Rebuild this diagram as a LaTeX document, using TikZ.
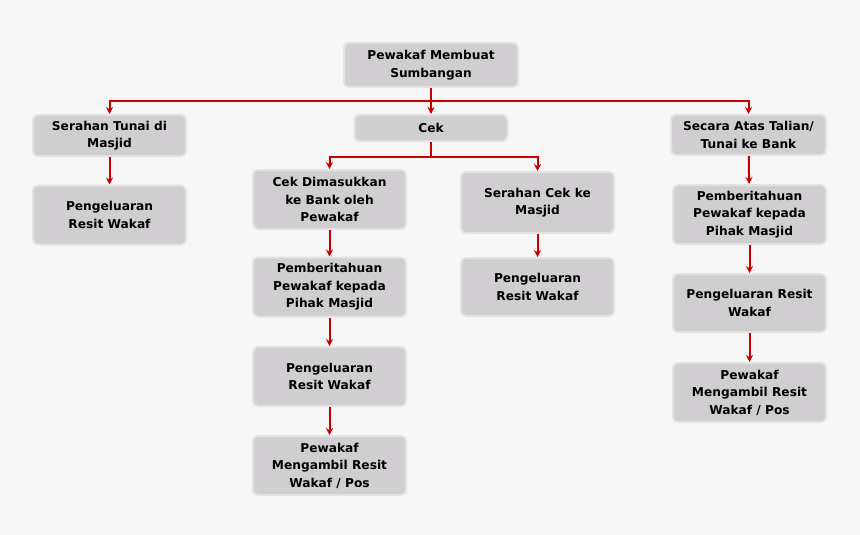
\documentclass[tikz,border=0pt]{standalone}
\usepackage{fontspec}
\setmainfont{DejaVu Sans}
\usetikzlibrary{arrows.meta, positioning}
\definecolor{boxgray}{RGB}{208,206,208}
\definecolor{boxedge}{RGB}{226,226,226}
\definecolor{linered}{RGB}{200,0,0}
\definecolor{bggray}{RGB}{247,247,247}
\begin{document}
\begin{tikzpicture}[x=1pt, y=-1pt,
    box/.style={draw=boxedge, line width=2pt, fill=boxgray, rounded corners=5pt, minimum width=153pt, minimum height=59pt, font=\bfseries\fontsize{12.2}{17.5}\selectfont, align=center, inner sep=1pt},
    arrow/.style={-{Stealth[length=7pt, width=7pt]}, linered, line width=2pt}
]
    \fill[bggray] (0,0) rectangle (860,535);
    \useasboundingbox (0,0) rectangle (860,535);

    \node[box, minimum width=174pt, minimum height=44pt] (top) at (431,65) {Pewakaf Membuat\\Sumbangan};

    % cawangan tunai
    \node[box, minimum height=41pt] (tunai) at (109.5,135.5) {Serahan Tunai di\\Masjid};
    \node[box] (resitA) at (109.5,215) {Pengeluaran\\Resit Wakaf};

    % cawangan cek
    \node[box, minimum height=26pt] (cek) at (431,128) {Cek};
    \node[box] (bank) at (329.5,199.5) {Cek Dimasukkan\\ke Bank oleh\\Pewakaf};
    \node[box] (notisB) at (329.5,287) {Pemberitahuan\\Pewakaf kepada\\Pihak Masjid};
    \node[box] (resitB) at (329.5,376.5) {Pengeluaran\\Resit Wakaf};
    \node[box] (ambilB) at (329.5,465.5) {Pewakaf\\Mengambil Resit\\Wakaf / Pos};
    \node[box, minimum height=61pt] (serahCek) at (537.5,202.5) {Serahan Cek ke\\Masjid};
    \node[box, minimum height=58pt] (resitC) at (537.5,287) {Pengeluaran\\Resit Wakaf};

    % cawangan talian
    \node[box, minimum width=155pt, minimum height=40pt] (talian) at (748.5,135) {Secara Atas Talian/\\Tunai ke Bank};
    \node[box] (notisD) at (749.5,214.5) {Pemberitahuan\\Pewakaf kepada\\Pihak Masjid};
    \node[box, minimum height=58pt] (resitD) at (749.5,303) {Pengeluaran Resit\\Wakaf};
    \node[box] (ambilD) at (749.5,392.5) {Pewakaf\\Mengambil Resit\\Wakaf / Pos};

    \draw[arrow] (top.south) -- ++(0,13) -| (tunai.north);
    \draw[arrow] (top.south) -- (cek.north);
    \draw[arrow] (top.south) -- ++(0,13) -| (talian.north);
    \draw[arrow] (tunai) -- (resitA);

    \draw[arrow] (cek.south) -- ++(0,15) -| (bank.north);
    \draw[arrow] (cek.south) -- ++(0,15) -| (serahCek.north);
    \draw[arrow] (bank) -- (notisB);
    \draw[arrow] (notisB) -- (resitB);
    \draw[arrow] (resitB) -- (ambilB);
    \draw[arrow] (serahCek) -- (resitC);

    \draw[arrow] (talian) -- (notisD);
    \draw[arrow] (notisD) -- (resitD);
    \draw[arrow] (resitD) -- (ambilD);
\end{tikzpicture}
\end{document}
